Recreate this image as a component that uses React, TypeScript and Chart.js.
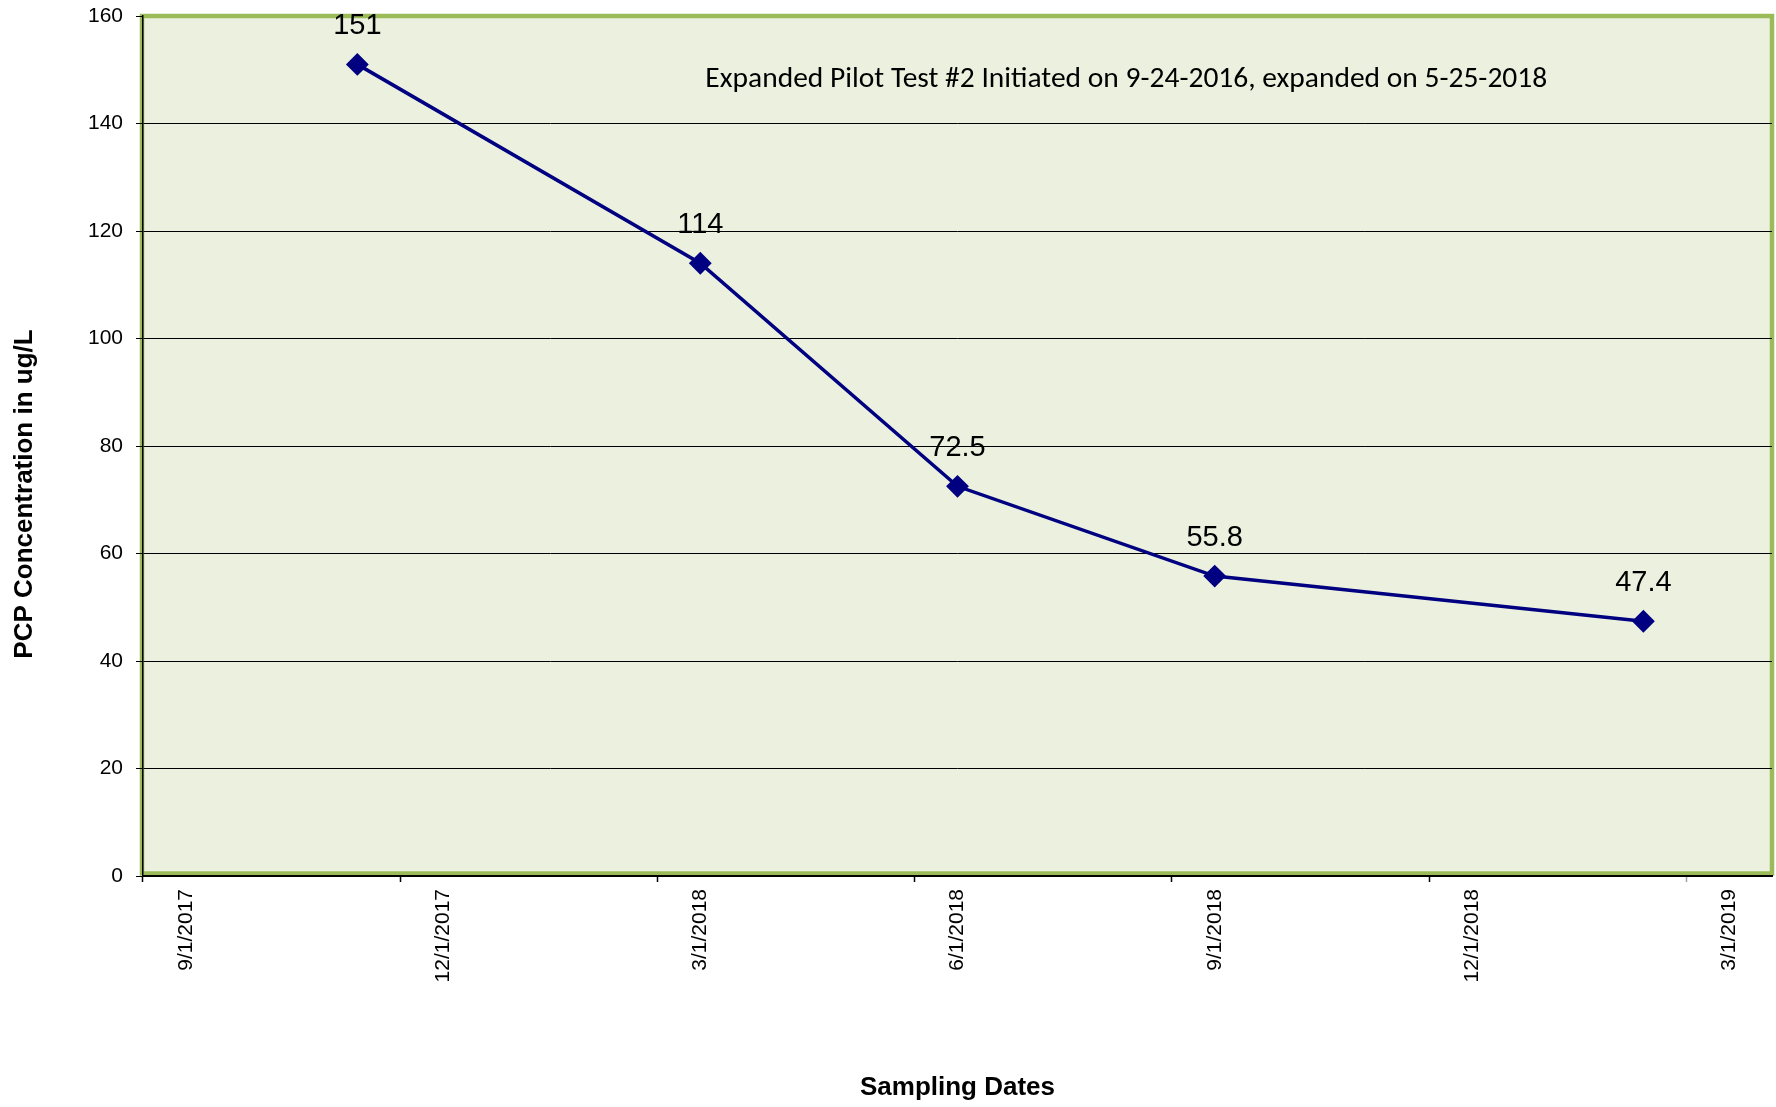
import React, { useEffect, useRef } from 'react';
import { Chart, registerables } from 'chart.js';

Chart.register(...registerables);

// ---- data ----
const axisMonths = [
  '9/1/2017', '10/1/2017', '11/1/2017', '12/1/2017', '1/1/2018', '2/1/2018',
  '3/1/2018', '4/1/2018', '5/1/2018', '6/1/2018', '7/1/2018', '8/1/2018',
  '9/1/2018', '10/1/2018', '11/1/2018', '12/1/2018', '1/1/2019', '2/1/2019',
  '3/1/2019',
];
const sampleDates = ['11/1/2017', '3/1/2018', '6/1/2018', '9/1/2018', '2/1/2019'];
const pcpValues = [151, 114, 72.5, 55.8, 47.4];
const yMin = 0;
const yMax = 160;
const yStep = 20;
const xTitle = 'Sampling Dates';
const yTitle = 'PCP Concentration in ug/L';
const noteText = 'Expanded Pilot Test #2 Initiated on 9-24-2016, expanded on 5-25-2018';

const W = 1776;
const H = 1107;
const FONT = '"Liberation Sans", Arial, sans-serif';

const plotBackground = {
  id: 'plotBackground',
  beforeDraw(chart: any) {
    const { ctx, chartArea } = chart;
    const { left, top, right, bottom } = chartArea;
    ctx.save();
    ctx.fillStyle = '#EBF1DE';
    ctx.fillRect(left, top, right - left, bottom - top);
    ctx.strokeStyle = '#9BBB59';
    ctx.lineWidth = 4.5;
    ctx.strokeRect(left - 1, top, right - left + 1, bottom - top - 2.5);
    ctx.restore();
  },
};

const pointLabels = {
  id: 'pointLabels',
  afterDatasetsDraw(chart: any) {
    const { ctx } = chart;
    const meta = chart.getDatasetMeta(0);
    ctx.save();
    ctx.fillStyle = '#000';
    ctx.font = `29px ${FONT}`;
    ctx.textAlign = 'center';
    ctx.textBaseline = 'middle';
    meta.data.forEach((pt: any, i: number) => {
      ctx.fillText(String(pcpValues[i]), pt.x, pt.y - 38);
    });
    ctx.restore();
  },
};

const extraText = {
  id: 'extraText',
  afterDraw(chart: any) {
    const { ctx, chartArea } = chart;
    const { left, top, right, bottom } = chartArea;
    ctx.save();
    // annotation in plot area
    const fam = 'Carlito, Lato, "Open Sans", sans-serif';
    ctx.font = `24px ${fam}`;
    const w = ctx.measureText(noteText).width;
    const size = (24 * 842) / w;
    ctx.font = `${size}px ${fam}`;
    ctx.fillStyle = '#000';
    ctx.textAlign = 'center';
    ctx.textBaseline = 'middle';
    const nx = left + (right - left) * 0.6036;
    const ny = top + (bottom - top) * 0.0709 + 3;
    ctx.fillText(noteText, nx, ny);
    // y axis title
    ctx.font = `bold 26px ${FONT}`;
    ctx.translate(25, 494);
    ctx.rotate(-Math.PI / 2);
    ctx.fillText(yTitle, 0, 0);
    ctx.restore();
  },
};

export default function App() {
  const ref = useRef<HTMLCanvasElement | null>(null);

  useEffect(() => {
    if (!ref.current) return;
    Chart.defaults.font.family = FONT;
    Chart.defaults.color = '#000';
    const chart = new Chart(ref.current, {
      type: 'line',
      data: {
        labels: axisMonths,
        datasets: [
          {
            label: 'PCP',
            data: sampleDates.map((d, i) => ({ x: d, y: pcpValues[i] })) as any,
            borderColor: '#000080',
            backgroundColor: '#000080',
            borderWidth: 3.5,
            tension: 0,
            pointStyle: 'rectRot',
            pointRadius: 10,
            pointBorderWidth: 2,
            pointBackgroundColor: '#000080',
            pointBorderColor: '#000080',
            fill: false,
          },
        ],
      },
      options: {
        responsive: false,
        animation: false,
        devicePixelRatio: 1,
        layout: { autoPadding: false, padding: { top: 16, right: 4, bottom: 0, left: 0 } },
        plugins: {
          legend: { display: false },
          tooltip: { enabled: false },
          title: { display: false },
        },
        scales: {
          x: {
            type: 'category',
            offset: true,
            grid: {
              offset: true,
              drawOnChartArea: false,
              drawTicks: true,
              tickLength: 6,
              tickWidth: 1.5,
              tickColor: (c: any) =>
                c.index === undefined ? 'rgba(0,0,0,0)' : c.index === 18 ? '#a0a0a0' : c.index % 3 === 0 ? '#000' : 'rgba(0,0,0,0)',
            },
            border: { display: true, color: '#000', width: 2 },
            ticks: {
              autoSkip: false,
              minRotation: 90,
              maxRotation: 90,
              padding: 7,
              font: { size: 21 },
              color: '#000',
              callback: function (this: any, val: any, idx: number) {
                return idx % 3 === 0 ? axisMonths[idx] : '';
              },
            },
            title: {
              display: true,
              text: xTitle,
              font: { size: 26, weight: 'bold' },
              color: '#000',
              padding: { top: 0, bottom: 4 },
            },
            afterFit: (scale: any) => {
              scale.height = H - 876;
              scale.paddingLeft = 0;
              scale.paddingRight = 0;
            },
          },
          y: {
            min: yMin,
            max: yMax,
            ticks: {
              stepSize: yStep,
              padding: 13,
              font: { size: 21 },
              color: '#000',
            },
            grid: {
              color: (c: any) => (c.tick && c.tick.value === yMax ? 'rgba(0,0,0,0)' : '#000'),
              lineWidth: 1,
              tickColor: '#000',
              tickLength: 7,
            },
            border: { display: true, color: '#000', width: 1.5 },
            afterFit: (scale: any) => {
              scale.width = 143;
              scale.paddingTop = 0;
              scale.paddingBottom = 0;
            },
          },
        },
      },
      plugins: [plotBackground, pointLabels, extraText],
    } as any);
    return () => chart.destroy();
  }, []);

  return (
    <div style={{ position: 'absolute', left: 0, top: 0, width: W, height: H, background: '#fff' }}>
      <canvas ref={ref} width={W} height={H} style={{ width: W, height: H, display: 'block' }} />
    </div>
  );
}
